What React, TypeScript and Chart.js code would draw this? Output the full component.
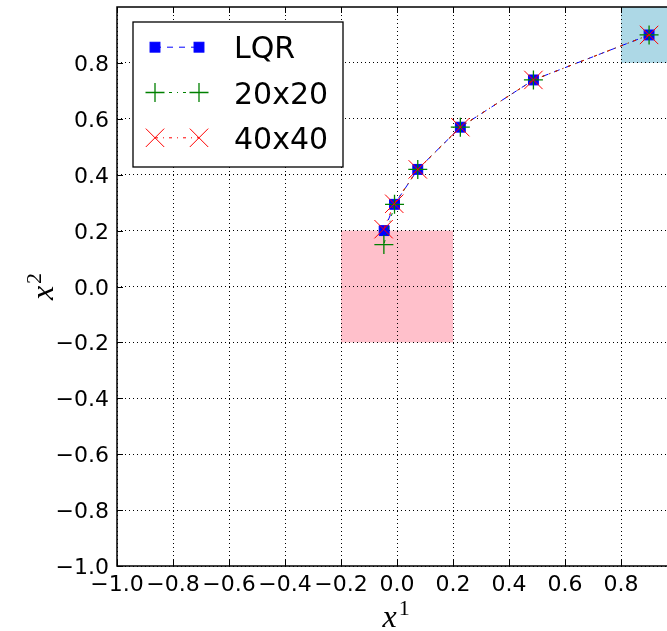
import React, { useEffect, useRef } from "react";
import { Chart, registerables } from "chart.js";

Chart.register(...registerables);

// ---- data ----
const seriesLabels = ["LQR", "20x20", "40x40"];
const lqrX = [0.9, 0.487, 0.226, 0.074, -0.009, -0.046];
const lqrY = [0.9, 0.739, 0.57, 0.419, 0.294, 0.2];
const grid20X = [0.9, 0.487, 0.226, 0.074, -0.009, -0.047];
const grid20Y = [0.9, 0.739, 0.57, 0.419, 0.294, 0.15];
const grid40X = [0.9, 0.487, 0.226, 0.074, -0.01, -0.048];
const grid40Y = [0.9, 0.739, 0.57, 0.419, 0.296, 0.205];
const xTicks = [-1.0, -0.8, -0.6, -0.4, -0.2, 0.0, 0.2, 0.4, 0.6, 0.8];
const yTicks = [-1.0, -0.8, -0.6, -0.4, -0.2, 0.0, 0.2, 0.4, 0.6, 0.8];
const xRange = [-1.0, 0.964];
const yRange = [-1.0, 1.0];
const startBoxX = [-0.2, 0.2];
const startBoxY = [-0.2, 0.2];
const goalBoxX = [0.8, 1.0];
const goalBoxY = [0.8, 1.0];

const fmt = (v: number | string) => {
  const n = Number(v);
  const s = Math.abs(n).toFixed(1);
  return n < -1e-9 ? "\u2212" + s : s;
};

const toPts = (xs: number[], ys: number[]) => xs.map((x, i) => ({ x, y: ys[i] }));

const LEGEND_FONT = '30px "DejaVu Sans"';
const TICK_FONT = '22px "DejaVu Sans"';

function drawMarker(ctx: CanvasRenderingContext2D, style: string, x: number, y: number, r: number, color: string, lw: number) {
  ctx.save();
  ctx.setLineDash([]);
  ctx.strokeStyle = color;
  ctx.fillStyle = color;
  ctx.lineWidth = lw;
  if (style === "rect") {
    const s = r / Math.SQRT2;
    ctx.fillRect(x - s, y - s, 2 * s, 2 * s);
    ctx.strokeRect(x - s, y - s, 2 * s, 2 * s);
  } else if (style === "cross") {
    ctx.beginPath();
    ctx.moveTo(x - r, y);
    ctx.lineTo(x + r, y);
    ctx.moveTo(x, y - r);
    ctx.lineTo(x, y + r);
    ctx.stroke();
  } else {
    const o = r * Math.SQRT1_2;
    ctx.beginPath();
    ctx.moveTo(x - o, y - o);
    ctx.lineTo(x + o, y + o);
    ctx.moveTo(x - o, y + o);
    ctx.lineTo(x + o, y - o);
    ctx.stroke();
  }
  ctx.restore();
}

const boxesPlugin = {
  id: "boxes",
  beforeDraw(chart: any) {
    const { ctx, chartArea, scales } = chart;
    const xs = scales.x;
    const ys = scales.y;
    ctx.save();
    ctx.beginPath();
    ctx.rect(chartArea.left, chartArea.top, chartArea.right - chartArea.left, chartArea.bottom - chartArea.top);
    ctx.clip();
    const fillBox = (bx: number[], by: number[], color: string) => {
      const x0 = xs.getPixelForValue(bx[0]);
      const x1 = xs.getPixelForValue(bx[1]);
      const y0 = ys.getPixelForValue(by[1]);
      const y1 = ys.getPixelForValue(by[0]);
      ctx.fillStyle = color;
      ctx.fillRect(x0, y0, x1 - x0, y1 - y0);
    };
    fillBox(startBoxX, startBoxY, "#ffc0cb");
    fillBox(goalBoxX, goalBoxY, "#add8e6");
    ctx.restore();
  },
};

const framePlugin = {
  id: "frame",
  afterDraw(chart: any) {
    const { ctx, chartArea, scales } = chart;
    const xs = scales.x;
    const ys = scales.y;
    const { left, top, right, bottom } = chartArea;
    ctx.save();
    ctx.setLineDash([]);
    // inner ticks
    ctx.strokeStyle = "#000";
    ctx.lineWidth = 1;
    const tl = 6;
    ctx.beginPath();
    xTicks.forEach((v) => {
      const px = Math.round(xs.getPixelForValue(v)) + 0.5;
      ctx.moveTo(px, bottom);
      ctx.lineTo(px, bottom - tl);
      ctx.moveTo(px, top);
      ctx.lineTo(px, top + tl);
    });
    yTicks.forEach((v) => {
      const py = Math.round(ys.getPixelForValue(v)) + 0.5;
      ctx.moveTo(left, py);
      ctx.lineTo(left + tl, py);
    });
    ctx.stroke();
    // frame
    ctx.lineWidth = 1.5;
    ctx.strokeStyle = "#000";
    ctx.beginPath();
    ctx.moveTo(right + 5, top);
    ctx.lineTo(left, top);
    ctx.lineTo(left, bottom);
    ctx.lineTo(right + 5, bottom);
    ctx.stroke();

    // tick labels
    ctx.fillStyle = "#000";
    ctx.font = TICK_FONT;
    ctx.textBaseline = "alphabetic";
    ctx.textAlign = "center";
    xTicks.forEach((v) => {
      ctx.fillText(fmt(v), xs.getPixelForValue(v), 591);
    });
    ctx.textAlign = "right";
    yTicks.forEach((v) => {
      ctx.fillText(fmt(v), left - 8, ys.getPixelForValue(v) + 8);
    });

    // axis titles
    ctx.textAlign = "left";
    const mainFont = 'italic 32px "Liberation Serif"';
    const supFont = '22px "Liberation Serif"';
    ctx.font = mainFont;
    const wx = ctx.measureText("x").width;
    ctx.font = supFont;
    const w1 = ctx.measureText("1").width;
    const xc = xs.getPixelForValue(0) - 1;
    const sx = xc - (wx + 2 + w1) / 2;
    ctx.font = mainFont;
    ctx.fillText("x", sx, 627);
    ctx.font = supFont;
    ctx.fillText("1", sx + wx + 2, 615);
    ctx.save();
    const yc = ys.getPixelForValue(0);
    ctx.translate(53, yc);
    ctx.rotate(-Math.PI / 2);
    ctx.font = mainFont;
    const wy = ctx.measureText("x").width;
    ctx.font = supFont;
    const w2 = ctx.measureText("2").width;
    const sy = -(wy + 2 + w2) / 2;
    ctx.font = mainFont;
    ctx.fillText("x", sy, 0);
    ctx.font = supFont;
    ctx.fillText("2", sy + wy + 2, -12);
    ctx.restore();

    // legend
    const lx = 133, ly = 22, lw = 210, lh = 145;
    ctx.fillStyle = "#fff";
    ctx.fillRect(lx, ly, lw, lh);
    ctx.lineWidth = 1.3;
    ctx.strokeStyle = "#000";
    ctx.strokeRect(lx, ly, lw, lh);
    const rows = [47.2, 92.5, 137.8];
    const x0 = 155, x1 = 199;
    chart.data.datasets.forEach((ds: any, i: number) => {
      const ry = rows[i];
      ctx.save();
      ctx.strokeStyle = ds.borderColor;
      ctx.lineWidth = ds.borderWidth;
      ctx.setLineDash(ds.borderDash);
      ctx.beginPath();
      ctx.moveTo(x0, ry);
      ctx.lineTo(x1, ry);
      ctx.stroke();
      ctx.restore();
      drawMarker(ctx, ds.pointStyle, x0, ry, ds.pointRadius, ds.pointBorderColor, ds.pointBorderWidth);
      drawMarker(ctx, ds.pointStyle, x1, ry, ds.pointRadius, ds.pointBorderColor, ds.pointBorderWidth);
      ctx.fillStyle = "#000";
      ctx.font = LEGEND_FONT;
      ctx.textBaseline = "alphabetic";
      ctx.textAlign = "left";
      ctx.fillText(seriesLabels[i], 234, ry + 11);
    });
    ctx.restore();
  },
};

export default function App() {
  const ref = useRef<HTMLCanvasElement>(null);
  useEffect(() => {
    document.body.style.margin = "0";
    document.body.style.overflow = "hidden";
    const canvas = ref.current!;
    const chart = new Chart(canvas, {
      type: "scatter",
      data: {
        datasets: [
          {
            label: seriesLabels[0],
            data: toPts(lqrX, lqrY),
            showLine: true,
            borderColor: "#0000ff",
            backgroundColor: "#0000ff",
            borderWidth: 1,
            borderDash: [6, 6],
            pointStyle: "rect",
            pointRadius: 7,
            pointHoverRadius: 7,
            pointBorderColor: "#0000ff",
            pointBackgroundColor: "#0000ff",
            pointBorderWidth: 1,
            order: 2,
          },
          {
            label: seriesLabels[1],
            data: toPts(grid20X, grid20Y),
            showLine: true,
            borderColor: "#008000",
            backgroundColor: "#008000",
            borderWidth: 1,
            borderDash: [3, 5, 1, 5],
            pointStyle: "cross",
            pointRadius: 9.5,
            pointHoverRadius: 9.5,
            pointBorderColor: "#008000",
            pointBackgroundColor: "#008000",
            pointBorderWidth: 1.3,
            order: 1,
          },
          {
            label: seriesLabels[2],
            data: toPts(grid40X, grid40Y),
            showLine: true,
            borderColor: "#ff0000",
            backgroundColor: "#ff0000",
            borderWidth: 1,
            borderDash: [3, 5, 1, 5],
            pointStyle: "crossRot",
            pointRadius: 13,
            pointHoverRadius: 13,
            pointBorderColor: "#ff0000",
            pointBackgroundColor: "#ff0000",
            pointBorderWidth: 1,
            order: 0,
          },
        ] as any,
      },
      options: {
        animation: false,
        responsive: false,
        devicePixelRatio: 1,
        events: [],
        layout: { autoPadding: false, padding: { top: 7, right: 0, left: 0, bottom: 0 } },
        plugins: {
          legend: { display: false },
          tooltip: { enabled: false },
          title: { display: false },
        },
        scales: {
          x: {
            type: "linear",
            min: xRange[0],
            max: xRange[1],
            afterBuildTicks: (s: any) => {
              s.ticks = xTicks.map((v) => ({ value: v }));
            },
            afterFit: (s: any) => {
              s.height = 65;
            },
            ticks: { display: false },
            grid: { color: "#000", lineWidth: 1, drawTicks: false },
            border: { display: false, dash: [1, 3] },
          },
          y: {
            type: "linear",
            min: yRange[0],
            max: yRange[1],
            afterBuildTicks: (s: any) => {
              s.ticks = yTicks.map((v) => ({ value: v }));
            },
            afterFit: (s: any) => {
              s.width = 117;
            },
            ticks: { display: false },
            grid: { color: "#000", lineWidth: 1, drawTicks: false },
            border: { display: false, dash: [1, 3] },
          },
        },
      } as any,
      plugins: [boxesPlugin, framePlugin],
    });
    return () => chart.destroy();
  }, []);
  return (
    <canvas
      ref={ref}
      width={667}
      height={631}
      style={{ display: "block", width: 667, height: 631 }}
    />
  );
}
